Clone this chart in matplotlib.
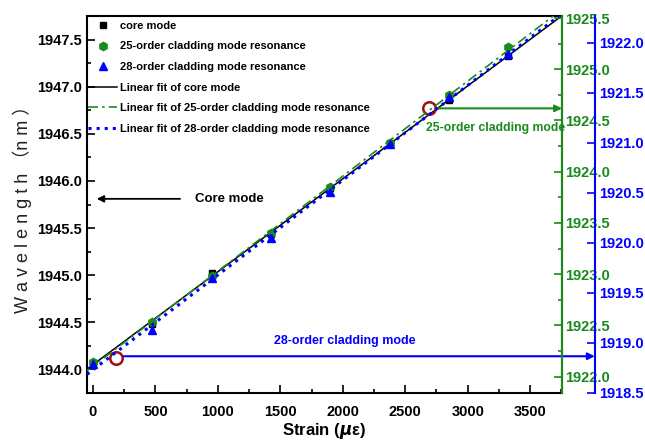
import numpy as np
import matplotlib
matplotlib.use('Agg')
import matplotlib.pyplot as plt
from matplotlib.ticker import MultipleLocator, FormatStrFormatter

# Data
strain = [0, 475, 950, 1425, 1900, 2375, 2850, 3325]
core = [1944.07, 1944.48, 1945.02, 1945.44, 1945.92, 1946.40, 1946.86, 1947.33]
clad25 = [1922.14, 1922.53, 1922.98, 1923.40, 1923.85, 1924.28, 1924.75, 1925.22]
clad28 = [1918.79, 1919.13, 1919.65, 1920.05, 1920.51, 1920.99, 1921.46, 1921.89]

plt.rcParams['font.family'] = ['Liberation Sans Narrow', 'Liberation Sans', 'DejaVu Sans']
plt.rcParams['font.weight'] = 'bold'

GREEN = '#1a8a1a'
BLUE = '#0000ff'
DRED = '#a01010'
TICKSIZE = 10.5

fig = plt.figure(figsize=(6.45, 4.44), dpi=100)
ax = fig.add_axes([87/645, 1-393/444, 475/645, 377/444])
ax2 = ax.twinx()
ax3 = ax.twinx()

xlim = (-48, 3755)
xf = np.linspace(xlim[0], xlim[1], 50)

# core mode (left axis)
h1, = ax.plot(strain, core, 's', color='black', ms=5, label='core mode')
p = np.polyfit(strain, core, 1)
l1, = ax.plot(xf, np.polyval(p, xf), '-', color='black', lw=1.1, label='Linear fit of core mode')

# 25-order (green axis)
h2, = ax2.plot(strain, clad25, 'h', color=GREEN, ms=6, label='25-order cladding mode resonance')
p = np.polyfit(strain, clad25, 1)
l2, = ax2.plot(xf, np.polyval(p, xf), color=GREEN, lw=1.2, dashes=(6, 2.5, 1.5, 2.5),
               label='Linear fit of 25-order cladding mode resonance')

# 28-order (blue axis)
h3, = ax3.plot(strain, clad28, '^', color=BLUE, ms=6, label='28-order cladding mode resonance')
p = np.polyfit(strain, clad28, 1)
l3, = ax3.plot(xf, np.polyval(p, xf), ':', color=BLUE, lw=2.2,
               label='Linear fit of 28-order cladding mode resonance')

ax.set_xlim(*xlim)
ax.set_ylim(1943.75, 1947.75)
ax2.set_ylim(1921.84, 1925.52)
ax3.set_ylim(1918.5, 1922.27)

# left / bottom ticks
ax.xaxis.set_major_locator(MultipleLocator(500))
ax.xaxis.set_minor_locator(MultipleLocator(250))
ax.yaxis.set_major_locator(MultipleLocator(0.5))
ax.yaxis.set_minor_locator(MultipleLocator(0.25))
ax.yaxis.set_major_formatter(FormatStrFormatter('%.1f'))
ax.tick_params(which='both', direction='in', labelsize=TICKSIZE, top=False)
ax.tick_params(which='major', length=6, width=1.2)
ax.tick_params(which='minor', length=3, width=1.2)
ax.tick_params(axis='x', pad=9)
for s in ax.spines.values():
    s.set_linewidth(1.5)

# green axis
ax2.yaxis.set_major_locator(MultipleLocator(0.5))
ax2.yaxis.set_minor_locator(MultipleLocator(0.25))
ax2.yaxis.set_major_formatter(FormatStrFormatter('%.1f'))
ax2.tick_params(which='both', direction='in', colors=GREEN, labelsize=TICKSIZE, pad=2)
ax2.tick_params(which='major', length=6, width=1.2)
ax2.tick_params(which='minor', length=3, width=1.2)
ax2.spines['right'].set_color(GREEN)
ax2.spines['right'].set_linewidth(1.5)

# blue axis
ax3.spines['right'].set_position(('axes', 1.069))
ax3.spines['right'].set_color(BLUE)
ax3.spines['right'].set_linewidth(1.5)
ax3.yaxis.set_major_locator(MultipleLocator(0.5))
ax3.yaxis.set_major_formatter(FormatStrFormatter('%.1f'))
ax3.tick_params(direction='in', colors=BLUE, labelsize=TICKSIZE, length=6, width=1.2, pad=3)
for side in ['left', 'top', 'bottom']:
    ax3.spines[side].set_visible(False)
    ax2.spines[side].set_visible(False)

# labels
ax.set_xlabel('Strain ($\\mu$ε)', fontsize=12, fontweight='bold', labelpad=1)
ax.set_ylabel('W a v e l e n g t h （n m ）', fontsize=13, fontweight='normal',
              family=['Liberation Sans', 'Noto Sans CJK SC', 'DejaVu Sans'], color='#222222', labelpad=4)

# annotations
ax.plot([184], [1944.12], 'o', mfc='none', mec=DRED, ms=9, mew=1.8, zorder=5)
ax.plot([2691], [1946.77], 'o', mfc='none', mec=DRED, ms=9, mew=1.8, zorder=5)

ax.annotate('', xy=(1.069, 1944.14), xycoords=('axes fraction', 'data'),
            xytext=(232, 1944.14), textcoords='data',
            arrowprops=dict(arrowstyle='-|>', color=BLUE, lw=1.5, mutation_scale=10,
                            shrinkA=0, shrinkB=0), annotation_clip=False)
ax.text(2018, 1944.30, '28-order cladding mode', color=BLUE, fontsize=9, ha='center', va='center')

ax.annotate('', xy=(1.0, 1946.77), xycoords=('axes fraction', 'data'),
            xytext=(2750, 1946.77), textcoords='data',
            arrowprops=dict(arrowstyle='-|>', color=GREEN, lw=1.5, mutation_scale=10,
                            shrinkA=0, shrinkB=0), annotation_clip=False)
ax.text(3225, 1946.56, '25-order cladding mode', color=GREEN, fontsize=8.8, ha='center', va='center')

ax.annotate('', xy=(30, 1945.81), xytext=(697, 1945.81),
            arrowprops=dict(arrowstyle='-|>', color='black', lw=1.3, mutation_scale=10,
                            shrinkA=0, shrinkB=0))
ax.text(820, 1945.81, 'Core mode', color='black', fontsize=9.5, ha='left', va='center')

# legend
handles = [h1, h2, h3, l1, l2, l3]
leg = ax3.legend(handles=handles, labels=[h.get_label() for h in handles], loc='upper left',
                 bbox_to_anchor=(0.0, 0.99), frameon=False, fontsize=8, borderaxespad=0.0,
                 borderpad=0.1, handlelength=2.6, handletextpad=0.25, labelspacing=0.95)

fig.savefig('out.png', dpi=100)
